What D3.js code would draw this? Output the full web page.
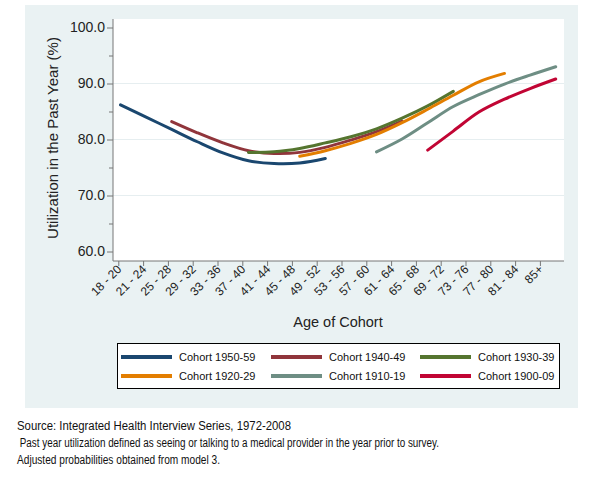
<!DOCTYPE html>
<html>
<head>
<meta charset="utf-8">
<script src="https://cdn.jsdelivr.net/npm/d3@7"></script>
<style>
body { margin: 0; background: #fff; }
text { font-family: "Liberation Sans", Arial, sans-serif; }
</style>
</head>
<body>
<div id="viz1"></div>
<script>
// age groups on the x axis
var ageGroups = ['18 - 20','21 - 24','25 - 28','29 - 32','33 - 36','37 - 40','41 - 44','45 - 48','49 - 52',
                 '53 - 56','57 - 60','61 - 64','65 - 68','69 - 72','73 - 76','77 - 80','81 - 84','85+'];
var yTicks = [60, 70, 80, 90, 100];
var yMinor = [65, 75, 85, 95];

// each cohort: first age group index, then values (%)
var cohortNames = ['Cohort 1950-59','Cohort 1940-49','Cohort 1930-39','Cohort 1920-29','Cohort 1910-19','Cohort 1900-09'];
var cohortStart = [0, 2, 5, 7, 10, 12];
var c1950 = [86.2, 84.0, 81.8, 79.6, 77.6, 76.2, 75.7, 75.8, 76.6];
var c1940 = [83.2, 81.2, 79.4, 78.0, 77.5, 77.7, 78.6, 79.9, 81.4, 83.3];
var c1930 = [77.7, 77.8, 78.4, 79.4, 80.5, 81.9, 83.8, 86.0, 88.6];
var c1920 = [77.0, 78.0, 79.3, 80.9, 83.0, 85.4, 87.9, 90.3, 91.8];
var c1910 = [77.8, 80.1, 83.0, 85.9, 88.0, 89.9, 91.5, 93.0];
var c1900 = [78.1, 81.5, 84.9, 87.2, 89.1, 90.8];
var cohortValues = [c1950, c1940, c1930, c1920, c1910, c1900];
var cohortColors = ['#1a476f','#90353b','#55752f','#e37e00','#6e8e84','#c10534'];

var footnotes = ['Source: Integrated Health Interview Series, 1972-2008',
                 ' Past year utilization defined as seeing or talking to a medical provider in the year prior to survey.',
                 'Adjusted probabilities obtained from model 3.'];

var svg = d3.select('#viz1').append('svg')
            .attr('width', 600)
            .attr('height', 481);

// graph region + plot region
svg.append('rect').attr('x', 25).attr('y', 5).attr('width', 553).attr('height', 403)
   .style('fill', '#eaf2f3');
svg.append('rect').attr('x', 113).attr('y', 19).attr('width', 451).attr('height', 242)
   .style('fill', '#fff');

var y = d3.scaleLinear().domain([60, 100]).range([251.5, 27.5]);
// tick labels and the plotted points don't sit on the same spacing in the original
var xTick = d3.scaleLinear().domain([0, 17]).range([118.3, 539.9]);
var xData = d3.scaleLinear().domain([0, 17]).range([120.5, 555.7]);

svg.append('g').selectAll('line')
   .data([70, 80, 90]).enter().append('line')
   .attr('x1', 113).attr('x2', 564)
   .attr('y1', d => y(d)).attr('y2', d => y(d))
   .style('stroke', '#e6eef0').style('stroke-width', 1);

// y axis
var yAxis = svg.append('g').attr('transform', 'translate(113,0)')
   .call(d3.axisLeft(y).tickValues(yTicks).tickFormat(d3.format('.1f')).tickSize(6).tickSizeOuter(0));
svg.append('g').attr('transform', 'translate(113,0)')
   .call(d3.axisLeft(y).tickValues(yMinor).tickFormat('').tickSize(4).tickSizeOuter(0))
   .select('.domain').remove();
yAxis.select('.domain').attr('d', 'M0,19V261');
svg.selectAll('.tick line').style('stroke', '#777');
yAxis.select('.domain').style('stroke', '#777');
yAxis.selectAll('text').style('font-size', '14px').style('fill', '#222')
     .style('font-family', '"Liberation Sans", Arial, sans-serif').attr('x', -8);

// x axis, labels drawn by hand so the rotation is exact
var xAxis = svg.append('g').attr('transform', 'translate(0,261)')
   .call(d3.axisBottom(xTick).tickValues(d3.range(ageGroups.length))
         .tickFormat('').tickSize(5).tickSizeOuter(0));
xAxis.select('.domain').attr('d', 'M113,0H564').style('stroke', '#777');
xAxis.selectAll('.tick line').style('stroke', '#777');
svg.append('g').selectAll('text')
   .data(ageGroups).enter().append('text')
   .attr('transform', (d, i) => 'translate(' + (xTick(i) + 4) + ',' + 270 + ') rotate(-45)')
   .attr('text-anchor', 'end')
   .style('font-size', '12px').style('fill', '#222')
   .text(d => d);

svg.append('text').attr('x', 338).attr('y', 327)
   .attr('text-anchor', 'middle').style('font-size', '14.5px').style('fill', '#222')
   .text('Age of Cohort');
svg.append('text').attr('transform', 'translate(58,138) rotate(-90)')
   .attr('text-anchor', 'middle').style('font-size', '15px').style('fill', '#222')
   .text('Utilization in the Past Year (%)');

// cohort lines
var curveLine = d3.line()
                  .x(d => xData(d[0]))
                  .y(d => y(d[1]))
                  .curve(d3.curveCatmullRom);
cohortValues.forEach(function(vals, k) {
	var pts = vals.map((v, j) => [cohortStart[k] + j, v]);
	svg.append('path')
	   .datum(pts)
	   .attr('d', curveLine)
	   .style('fill', 'none')
	   .style('stroke', cohortColors[k])
	   .style('stroke-width', 3)
	   .style('stroke-linecap', 'round');
});

// legend
svg.append('rect').attr('x', 117.5).attr('y', 343.5).attr('width', 442).attr('height', 45)
   .style('fill', '#fff').style('stroke', '#000').style('stroke-width', 1);
var colX = [121, 271, 420];
var rowY = [357, 376];
cohortNames.forEach(function(name, k) {
	var cx = colX[k % 3], cy = rowY[Math.floor(k / 3)];
	svg.append('line').attr('x1', cx).attr('x2', cx + 51).attr('y1', cy).attr('y2', cy)
	   .style('stroke', cohortColors[k]).style('stroke-width', 4);
	svg.append('text').attr('x', cx + 58).attr('y', cy + 4)
	   .style('font-size', '11px').style('fill', '#111')
	   .text(name);
});

// notes under the graph
var noteW = [274, 422, 203];
footnotes.forEach(function(t, k) {
	svg.append('text').attr('x', 17).attr('y', 430 + k * 17)
	   .attr('textLength', noteW[k]).attr('lengthAdjust', 'spacingAndGlyphs')
	   .style('font-family', '"Liberation Sans Narrow", "Liberation Sans", Arial, sans-serif')
	   .style('font-size', '12.5px').style('fill', '#111')
	   .style('white-space', 'pre')
	   .text(t);
});
</script>
</body>
</html>
